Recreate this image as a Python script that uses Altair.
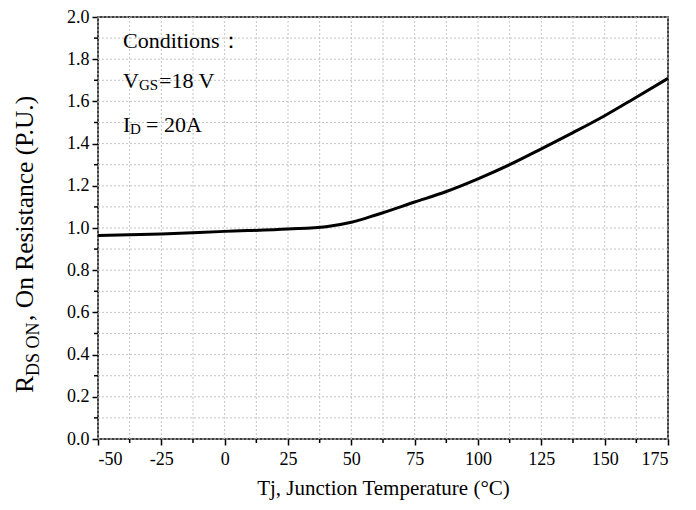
import altair as alt
import pandas as pd

# ---- data ----
temp_c = [-50, -25, 0, 25, 40, 50, 60, 75, 87.5, 100, 112.5, 125, 137.5, 150, 162.5, 175]
rds_on = [0.964, 0.972, 0.984, 0.995, 1.006, 1.027, 1.063, 1.123, 1.173, 1.233, 1.30, 1.375, 1.452, 1.532, 1.62, 1.709]

x_major = [-50, -25, 0, 25, 50, 75, 100, 125, 150, 175]
x_minor = [-37.5, -12.5, 12.5, 37.5, 62.5, 87.5, 112.5, 137.5, 162.5]
y_major = [0.0, 0.2, 0.4, 0.6, 0.8, 1.0, 1.2, 1.4, 1.6, 1.8, 2.0]
y_minor = [0.1, 0.3, 0.5, 0.7, 0.9, 1.1, 1.3, 1.5, 1.7, 1.9]

x_title = "Tj, Junction Temperature (°C)"
y_title_main = "R"
y_title_sub = "DS ON"
y_title_rest = ", On Resistance (P.U.)"
cond_title = "Conditions："
vgs_main = "V"
vgs_sub = "GS"
vgs_rest = "=18 V"
id_main = "I"
id_sub = "D"
id_rest = "= 20A"

FONT = "Liberation Serif"
AXFONT = "Times New Roman, Liberation Serif, serif"
W, H = 570, 422

xs = alt.Scale(domain=[-50, 175], nice=False, zero=False)
ys = alt.Scale(domain=[0, 2], nice=False, zero=False)

ax_x = alt.Axis(
    values=x_major, title=x_title, grid=False, domain=False,
    labelExpr="'' + datum.value",
    tickSize=6, tickWidth=1.5, tickColor="black",
    labelFont=AXFONT, labelFontSize=18, labelColor="black", labelPadding=5,
    titleFont=FONT, titleFontSize=21, titleFontWeight="normal", titleColor="black",
    titlePadding=9)
ax_y = alt.Axis(
    values=y_major, format=".1f", title=None, grid=False, domain=False,
    tickSize=6, tickWidth=1.5, tickColor="black",
    labelFont=AXFONT, labelFontSize=18, labelColor="black", labelPadding=3)

curve = pd.DataFrame({"T": temp_c, "R": rds_on})
xgrid = pd.DataFrame({"v": x_major + x_minor})
ygrid = pd.DataFrame({"v": y_major + y_minor})
xmin_df = pd.DataFrame({"v": x_minor})
ymin_df = pd.DataFrame({"v": y_minor})

grid_x = alt.Chart(xgrid).mark_rule(color="#c4c4c4", strokeWidth=1, strokeDash=[2, 2]).encode(
    x=alt.X("v:Q", scale=xs, axis=ax_x)
)
grid_y = alt.Chart(ygrid).mark_rule(color="#c4c4c4", strokeWidth=1, strokeDash=[2, 2]).encode(
    y=alt.Y("v:Q", scale=ys, axis=ax_y)
)
minor_tx = alt.Chart(xmin_df).mark_rule(color="black", strokeWidth=1.5).encode(
    x=alt.X("v:Q", scale=xs, axis=ax_x), y=alt.value(H), y2=alt.value(H + 4)
)
minor_ty = alt.Chart(ymin_df).mark_rule(color="black", strokeWidth=1.5).encode(
    y=alt.Y("v:Q", scale=ys, axis=ax_y), x=alt.value(0), x2=alt.value(-4)
)

line = alt.Chart(curve).mark_line(color="black", strokeWidth=3, interpolate="monotone").encode(
    x=alt.X("T:Q", scale=xs, axis=ax_x),
    y=alt.Y("R:Q", scale=ys, axis=ax_y),
)


def label(txt, x, y, size, angle=0, align="left", baseline="alphabetic"):
    return alt.Chart(alt.Data(values=[{}])).mark_text(
        text=txt, font=FONT, fontSize=size, color="black", angle=angle,
        align=align, baseline=baseline,
    ).encode(x=alt.value(x), y=alt.value(y))


ann = [
    label(cond_title, 25, 31, 22),
    label(vgs_main, 25, 71, 22),
    label(vgs_sub, 41, 73, 15),
    label(vgs_rest, 61, 71, 22),
    label(id_main, 25, 115, 22),
    label(id_sub, 32, 117, 15),
    label(id_rest, 48, 115, 22),
    # y-axis title, rotated, built from pieces for the subscript
    label(y_title_main, -65, 376, 26, angle=270),
    label(y_title_sub, -59, 359, 18, angle=270),
    label(y_title_rest, -65, 304, 25.5, angle=270),
]

chart = alt.layer(grid_x, grid_y, minor_tx, minor_ty, line, *ann).properties(
    width=W, height=H,
    autosize=alt.AutoSizeParams(type="none"),
    padding={"left": 90, "top": 9, "right": 20, "bottom": 61},
    background="white",
).configure_view(
    stroke="black", strokeWidth=1.5
).configure_axis(
    labelFont=AXFONT, labelFontSize=18, labelColor="black",
    titleFont=FONT, titleFontSize=21, titleFontWeight="normal", titleColor="black",
)

chart.save("out.html", embed_options={"renderer": "svg", "actions": False})
